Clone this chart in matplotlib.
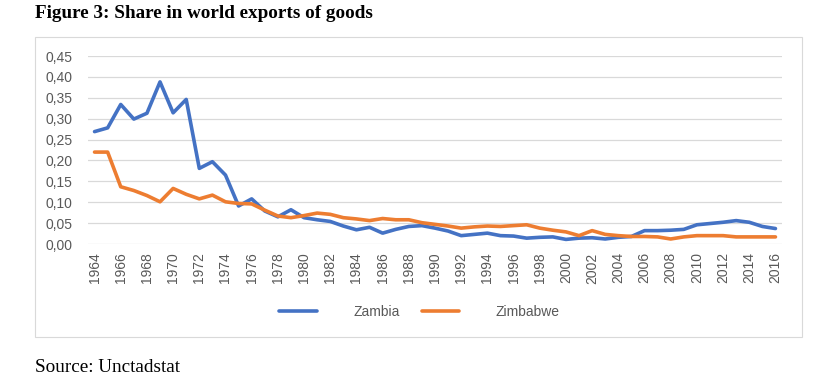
import numpy as np
import matplotlib
matplotlib.use('Agg')
import matplotlib.pyplot as plt
from matplotlib.patches import Rectangle

# share in world exports of goods (%)
years = list(range(1964, 2017))
zambia = [0.269, 0.278, 0.334, 0.299, 0.313, 0.388, 0.314, 0.346, 0.181, 0.197,
          0.165, 0.091, 0.108, 0.079, 0.065, 0.082, 0.063, 0.058, 0.054, 0.043,
          0.034, 0.040, 0.026, 0.035, 0.042, 0.044, 0.038, 0.031, 0.020, 0.023,
          0.026, 0.020, 0.019, 0.014, 0.016, 0.017, 0.011, 0.014, 0.015, 0.012,
          0.016, 0.018, 0.032, 0.032, 0.033, 0.035, 0.046, 0.049, 0.052, 0.056,
          0.052, 0.042, 0.037]
zimbabwe = [0.220, 0.220, 0.137, 0.128, 0.116, 0.101, 0.133, 0.119, 0.108, 0.117,
            0.101, 0.097, 0.096, 0.081, 0.067, 0.063, 0.068, 0.074, 0.071, 0.063,
            0.060, 0.056, 0.061, 0.058, 0.058, 0.051, 0.047, 0.043, 0.038, 0.041,
            0.043, 0.042, 0.044, 0.046, 0.038, 0.033, 0.029, 0.020, 0.032, 0.023,
            0.020, 0.018, 0.018, 0.017, 0.012, 0.017, 0.020, 0.020, 0.020, 0.017,
            0.017, 0.017, 0.017]
yticks = np.arange(0, 0.451, 0.05)

plt.rcParams['font.family'] = ['Liberation Sans', 'DejaVu Sans']

fig = plt.figure(figsize=(8.19, 3.80), dpi=100)

# chart border like the excel chart area
fig.patches.append(Rectangle((35/819, 43/380), 767/819, 300/380, transform=fig.transFigure,
                             fill=False, edgecolor='#d9d9d9', linewidth=0.8))

ax = fig.add_axes([88/819, 136/380, 694/819, 188/380])
x = np.arange(len(years))
ax.plot(x, zambia, color='#4472C4', linewidth=2.6, label='Zambia', solid_capstyle='round')
ax.plot(x, zimbabwe, color='#ED7D31', linewidth=2.6, label='Zimbabwe', solid_capstyle='round')

ax.set_xlim(-0.5, len(years) - 0.5)
ax.set_ylim(0, 0.45)
ax.set_yticks(yticks)
ax.set_yticklabels([('%.2f' % v).replace('.', ',') for v in yticks])
ax.set_xticks(x[::2])
ax.set_xticklabels([str(y) for y in years[::2]], rotation=90)
ax.tick_params(axis='both', length=0, labelsize=10, labelcolor='#595959')
ax.tick_params(axis='y', pad=11)
ax.tick_params(axis='x', pad=6)
ax.grid(axis='y', color='#d9d9d9', linewidth=0.9)
ax.set_axisbelow(True)
for s in ax.spines.values():
    s.set_visible(False)

fig.legend(loc='center', bbox_to_anchor=(0.512, 0.179), ncol=2, frameon=False,
           handlelength=2.7, handletextpad=2.6, columnspacing=1.6,
           prop={'size': 10}, labelcolor='#595959')

fig.text(35/819, 0.953, 'Figure 3: Share in world exports of goods', fontsize=13.8,
         fontweight='bold', family='Liberation Serif', va='baseline')
fig.text(35/819, 0.021, 'Source: Unctadstat', fontsize=13.8,
         family='Liberation Serif', va='baseline')

fig.savefig('out.png', dpi=100)
